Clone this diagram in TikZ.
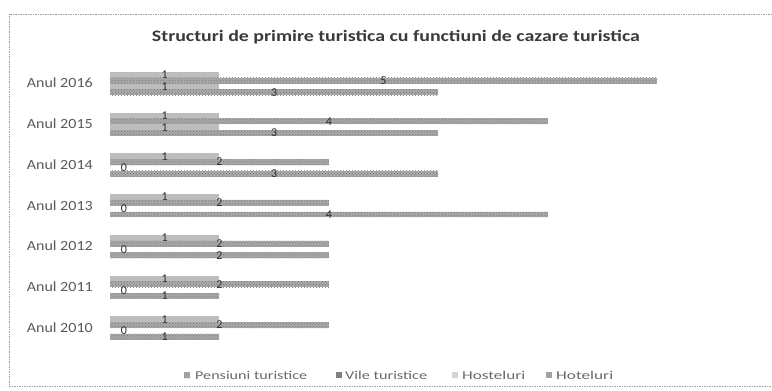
\documentclass[tikz,border=0pt]{standalone}
\usepackage{fontspec}
\usepackage{graphicx}
\setmainfont{Carlito}
\usetikzlibrary{patterns}
\definecolor{titlecol}{HTML}{3A3A3A}
\definecolor{labcol}{HTML}{5A5A5A}
\definecolor{legcol}{HTML}{6A6A6A}
\definecolor{valcol}{HTML}{2E2E2E}
\definecolor{barA}{HTML}{BDBDBD}
\definecolor{barB}{HTML}{A8A8A8}
\definecolor{patcol}{HTML}{7A7A7A}
\definecolor{vilecol}{HTML}{808080}
\definecolor{hostcol}{HTML}{D4D4D4}
\definecolor{hotcol}{HTML}{A3A3A3}
\definecolor{framecol}{HTML}{A0A0A0}
\newcommand{\fitw}[2]{\resizebox{#1}{\height}{#2}}
\begin{document}
\begin{tikzpicture}[x=1pt,y=1pt,
  yearlab/.style={anchor=east, text=labcol, font=\fontsize{14}{16}\selectfont, inner sep=0pt},
  vallab/.style={text=valcol, font=\fontsize{12}{13}\selectfont, inner sep=0pt},
  legtext/.style={anchor=west, text=legcol, font=\fontsize{12}{14}\selectfont, inner sep=0pt},
  legmark/.style={minimum size=6pt, inner sep=0pt, draw=none},
  barlight/.style={fill=barA},
  bardark/.style={fill=barB},
  barpat/.style={pattern=crosshatch dots, pattern color=patcol},
  frame/.style={draw=framecol, line width=0.7pt, dash pattern=on 1.5pt off 1pt}]
\useasboundingbox (0,0) rectangle (772,-391);
\fill[white] (0,0) rectangle (772,-391);
\draw[frame] (772,-14) -- (9,-14) -- (9,-386) -- (772,-386);
\node[text=titlecol, font=\bfseries\fontsize{16}{18}\selectfont, inner sep=0pt, anchor=base] (title) at (396,-41) {\fitw{488pt}{Structuri de primire turistica cu functiuni de cazare turistica}};
\foreach \yr/\k/\a/\b/\c/\d in {2016/0/1/5/1/3, 2015/1/1/4/1/3, 2014/2/1/2/0/3, 2013/3/1/2/0/4, 2012/4/1/2/0/2, 2011/5/1/2/0/1, 2010/6/1/2/0/1}{
  \pgfmathsetmacro{\yc}{-(83.5+40.75*\k)}
  \fill[barlight] (110,\yc+11.6) rectangle ({110+109.4*\a},\yc+5.8);
  \fill[bardark] (110,\yc+5.8) rectangle ({110+109.4*\b},\yc);
  \fill[barpat] (110,\yc+5.8) rectangle ({110+109.4*\b},\yc);
  \ifnum\c>0 \fill[barlight] (110,\yc) rectangle ({110+109.4*\c},\yc-5.8);\fi
  \fill[bardark] (110,\yc-5.8) rectangle ({110+109.4*\d},\yc-11.6);
  \fill[barpat] (110,\yc-5.8) rectangle ({110+109.4*\d},\yc-11.6);
  \node[yearlab] (y\yr) at (93,\yc+0.5) {\fitw{66pt}{Anul \yr}};
  \pgfmathsetmacro{\xa}{(\a==0) ? 124 : (110+54.7*\a)}
  \pgfmathsetmacro{\xb}{(\b==0) ? 124 : (110+54.7*\b)}
  \pgfmathsetmacro{\xc}{(\c==0) ? 124 : (110+54.7*\c)}
  \pgfmathsetmacro{\xd}{(\d==0) ? 124 : (110+54.7*\d)}
  \node[vallab] (va\yr) at (\xa,\yc+8.7) {\a};
  \node[vallab] (vb\yr) at (\xb,\yc+2.9) {\b};
  \node[vallab] (vc\yr) at (\xc,\yc-2.9) {\c};
  \node[vallab] (vd\yr) at (\xd,\yc-8.7) {\d};
}
\node[legmark, fill=barB, postaction={pattern=crosshatch dots, pattern color=patcol}] (m1) at (187,-375) {};
\node[legtext] (l1) at (195,-375) {\fitw{112pt}{Pensiuni turistice}};
\node[legmark, fill=vilecol] (m2) at (339,-375) {};
\node[legtext] (l2) at (345,-375) {\fitw{82pt}{Vile turistice}};
\node[legmark, fill=hostcol] (m3) at (455,-375) {};
\node[legtext] (l3) at (462,-375) {\fitw{63pt}{Hosteluri}};
\node[legmark, fill=hotcol] (m4) at (549,-375) {};
\node[legtext] (l4) at (556,-375) {\fitw{57pt}{Hoteluri}};
\end{tikzpicture}
\end{document}
